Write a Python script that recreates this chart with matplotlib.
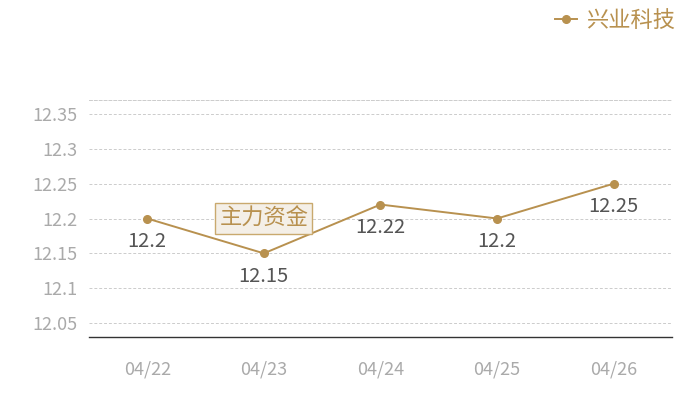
import matplotlib
matplotlib.use('Agg')
import matplotlib.pyplot as plt

plt.rcParams['font.family'] = ['Noto Sans CJK SC', 'DejaVu Sans']

dates = ['04/22', '04/23', '04/24', '04/25', '04/26']
prices = [12.2, 12.15, 12.22, 12.2, 12.25]
yticks = [12.05, 12.1, 12.15, 12.2, 12.25, 12.3, 12.35]
ytick_labels = ['12.05', '12.1', '12.15', '12.2', '12.25', '12.3', '12.35']
series_name = '兴业科技'
note_text = '主力资金'

gold = '#b8914f'

fig = plt.figure(figsize=(7, 4), dpi=100)
ax = fig.add_axes([0.127, 0.1575, 0.833, 0.5925])

x = list(range(len(dates)))
ax.plot(x, prices, color=gold, lw=1.4, marker='o', ms=5.5, label=series_name)

for xi, v in zip(x, prices):
    ax.annotate(f'{v:g}', (xi, v), xytext=(0, -16.5), textcoords='offset points',
                ha='center', va='center', fontsize=14.5, color='#555555')

ax.text(1, 12.2, note_text, ha='center', va='center', fontsize=16, color=gold,
        bbox=dict(boxstyle='square,pad=0.18', fc='#f4efe7', ec='#c9a96e', lw=1))

ax.set_xlim(-0.5, 4.5)
ax.set_ylim(12.03, 12.37)
ax.set_xticks(x)
ax.set_xticklabels(dates)
ax.set_yticks(yticks)
ax.set_yticklabels(ytick_labels)
ax.tick_params(axis='both', length=0, labelsize=13, labelcolor='#aaaaaa')
ax.tick_params(axis='x', pad=17)
ax.tick_params(axis='y', pad=8)

ax.grid(axis='y', color='#cccccc', ls=(0, (3, 2)), lw=0.7)
for s in ['left', 'right']:
    ax.spines[s].set_visible(False)
ax.spines['top'].set_color('#cccccc')
ax.spines['top'].set_linestyle((0, (3, 2)))
ax.spines['top'].set_linewidth(0.7)
ax.spines['bottom'].set_color('#333333')
ax.spines['bottom'].set_linewidth(1)

fig.legend(loc='upper right', bbox_to_anchor=(0.977, 1.0), frameon=False,
           fontsize=16, labelcolor=gold, handlelength=1.0, handletextpad=0.4,
           borderaxespad=0)

fig.savefig('out.png', dpi=100)
